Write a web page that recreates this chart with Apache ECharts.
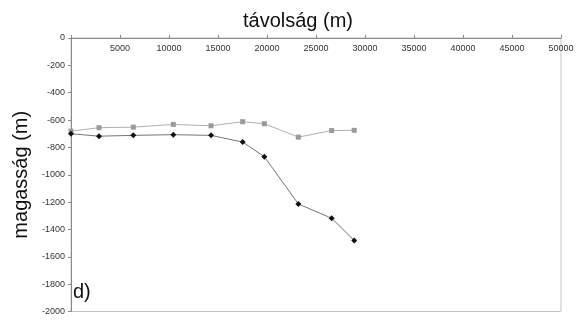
<!DOCTYPE html>
<html><head><meta charset="utf-8">
<script src="https://cdn.jsdelivr.net/npm/echarts@6/dist/echarts.min.js"></script>
<style>html,body{margin:0;padding:0;background:#fff}#c{width:577px;height:320px}</style>
</head><body><div id="c"></div>
<script>
const distGray = [0, 2860, 6360, 10440, 14290, 17520, 19730, 23200, 26600, 28900];
const elevGray = [-681, -656, -652, -632, -642, -612, -627, -725, -677, -675];
const distBlack = [0, 2860, 6360, 10440, 14290, 17520, 19730, 23200, 26600, 28900];
const elevBlack = [-700, -718, -712, -707, -712, -761, -868, -1214, -1318, -1481];
const xTitle = 'távolság (m)';
const yTitle = 'magasság (m)';
const panelLabel = 'd)';

const chart = echarts.init(document.getElementById('c'), null, {renderer: 'canvas'});
const pair = (xs, ys) => xs.map((x, i) => [x, ys[i]]);
chart.setOption({
  animation: false,
  backgroundColor: '#fff',
  title: {text: xTitle, left: 293, top: 6, textAlign: 'center',
    textStyle: {fontFamily: 'Liberation Sans, Arial', fontSize: 20, fontWeight: 'normal', color: '#111'}},
  grid: {left: 71, right: 16, top: 38, bottom: 8.5, show: true, borderColor: '#c4c4c4', borderWidth: 1},
  xAxis: {type: 'value', position: 'top', min: 0, max: 50000, interval: 5000,
    axisLine: {onZero: false, lineStyle: {color: '#8a8a8a', width: 1}},
    axisTick: {show: true, inside: false, length: 3, lineStyle: {color: '#8a8a8a'}},
    axisLabel: {inside: true, margin: 6, fontSize: 9, color: '#333', fontFamily: 'Liberation Sans, Arial',
      formatter: v => v === 0 ? '' : String(v)},
    splitLine: {show: false}},
  yAxis: {type: 'value', min: -2000, max: 0, interval: 200,
    name: yTitle, nameLocation: 'middle', nameGap: 38, nameRotate: 90,
    nameTextStyle: {fontFamily: 'Liberation Sans, Arial', fontSize: 20, color: '#111'},
    axisLine: {onZero: false, lineStyle: {color: '#8a8a8a', width: 1}},
    axisTick: {show: true, inside: false, length: 3, lineStyle: {color: '#8a8a8a'}},
    axisLabel: {fontSize: 9, color: '#333', margin: 6, fontFamily: 'Liberation Sans, Arial',
      formatter: v => String(v)},
    splitLine: {show: false}},
  graphic: [{type: 'text', left: 73, top: 282,
    style: {text: panelLabel, font: '20px "Liberation Sans", Arial', fill: '#111'}}],
  series: [
    {type: 'line', data: pair(distGray, elevGray), symbol: 'rect', symbolSize: 5,
      lineStyle: {color: '#b0b0b0', width: 1}, itemStyle: {color: '#9a9a9a'}},
    {type: 'line', data: pair(distBlack, elevBlack), symbol: 'diamond', symbolSize: 6,
      lineStyle: {color: '#777', width: 1}, itemStyle: {color: '#111'}}
  ]
});
</script></body></html>
